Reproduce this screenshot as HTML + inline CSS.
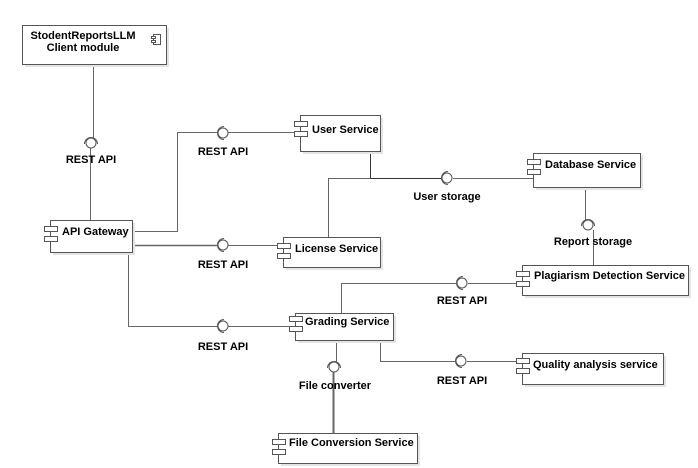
<!DOCTYPE html>
<html><head><meta charset="utf-8"><style>
html,body{margin:0;padding:0;background:#fff;}
svg{display:block;}
text{font-family:"Liberation Sans",Arial,sans-serif;font-weight:bold;font-size:11px;fill:#000;}
</style></head><body>
<svg width="698" height="468" viewBox="0 0 698 468" xmlns="http://www.w3.org/2000/svg">
<defs>
<g id="lol">
  <circle cx="0" cy="0" r="5" fill="#fff" stroke="#555" stroke-width="1"/>
  <path d="M 1,-6.5 A 6.5 6.5 0 0 0 1,6.5" fill="none" stroke="#555" stroke-width="1"/>
</g>
</defs>
<g fill="none" stroke="#666" stroke-width="1">
  <!-- client to gateway -->
  <path d="M93.5,64 V138"/><path d="M90.5,148 V220"/>
  <!-- gateway to user -->
  <path d="M132,231.5 H177.5 V132.5 H217"/><path d="M228,132.5 H300"/>
  <!-- gateway to license -->
  <path d="M132,245.5 H217" stroke-width="1.5"/><path d="M228,245.5 H283"/>
  <!-- gateway to grading -->
  <path d="M128.5,252 V326.5 H217"/><path d="M228,326.5 H295"/>
  <!-- user storage -->
  <path d="M370.5,151 V178.5 H441" stroke="#333"/><path d="M370.5,178.5 H328.5 V237"/>
  <path d="M453,178.5 H533"/>
  <!-- report storage -->
  <path d="M585.5,187 V220"/><path d="M593.5,230 V265"/>
  <!-- grading to plag -->
  <path d="M341.5,313 V283.5 H456"/><path d="M468,283.5 H522"/>
  <!-- grading to quality -->
  <path d="M380.5,340 V361.5 H455"/><path d="M467,361.5 H522"/>
  <!-- file converter -->
  <path d="M336.5,340 V362"/><path d="M333.5,372 V433" stroke-width="2"/>
</g>
<use href="#lol" x="91" y="143" transform="rotate(90 91 143)"/>
<use href="#lol" x="223" y="133"/>
<use href="#lol" x="223" y="245"/>
<use href="#lol" x="223" y="326"/>
<use href="#lol" x="447" y="178"/>
<use href="#lol" x="588" y="225" transform="rotate(90 588 225)"/>
<use href="#lol" x="462" y="283"/>
<use href="#lol" x="461" y="361"/>
<use href="#lol" x="334" y="367" transform="rotate(90 334 367)"/>

<!-- boxes -->
<g stroke="#555" stroke-width="1">
  <!-- client -->
  <rect x="25" y="28" width="144" height="39" fill="#e4e4e4" stroke="none"/>
  <rect x="22.5" y="25.5" width="144" height="39" fill="#fff"/>
  <!-- gateway -->
  <rect x="53" y="223" width="82" height="32" fill="#e4e4e4" stroke="none"/>
  <rect x="50.5" y="220.5" width="82" height="32" fill="#fff"/>
  <!-- user -->
  <rect x="303" y="118" width="80" height="36" fill="#e4e4e4" stroke="none"/>
  <rect x="300.5" y="115.5" width="80" height="36" fill="#fff"/>
  <!-- license -->
  <rect x="286" y="240" width="97" height="30" fill="#e4e4e4" stroke="none"/>
  <rect x="283.5" y="237.5" width="97" height="30" fill="#fff"/>
  <!-- db -->
  <rect x="536" y="156" width="107" height="34" fill="#e4e4e4" stroke="none"/>
  <rect x="533.5" y="153.5" width="107" height="34" fill="#fff"/>
  <!-- plag -->
  <rect x="525" y="268" width="166" height="30" fill="#e4e4e4" stroke="none"/>
  <rect x="522.5" y="265.5" width="166" height="30" fill="#fff"/>
  <!-- grading -->
  <rect x="298" y="316" width="98" height="27" fill="#e4e4e4" stroke="none"/>
  <rect x="295.5" y="313.5" width="98" height="27" fill="#fff"/>
  <!-- quality -->
  <rect x="525" y="356" width="141" height="31" fill="#e4e4e4" stroke="none"/>
  <rect x="522.5" y="353.5" width="141" height="31" fill="#fff"/>
  <!-- fcs -->
  <rect x="281" y="436" width="139" height="30" fill="#e4e4e4" stroke="none"/>
  <rect x="278.5" y="433.5" width="139" height="30" fill="#fff"/>
</g>
<!-- tabs -->
<g fill="#fff" stroke="#555" stroke-width="1">
  <rect x="44.5" y="226.5" width="13" height="5"/><rect x="44.5" y="236.5" width="13" height="5"/>
  <rect x="294.5" y="121.5" width="13" height="5"/><rect x="294.5" y="131.5" width="13" height="5"/>
  <rect x="277.5" y="243.5" width="13" height="5"/><rect x="277.5" y="253.5" width="13" height="5"/>
  <rect x="527.5" y="159.5" width="13" height="5"/><rect x="527.5" y="169.5" width="13" height="5"/>
  <rect x="516.5" y="271.5" width="13" height="5"/><rect x="516.5" y="281.5" width="13" height="5"/>
  <rect x="289.5" y="316.5" width="13" height="5"/><rect x="289.5" y="326.5" width="13" height="5"/>
  <rect x="516.5" y="358.5" width="13" height="5"/><rect x="516.5" y="368.5" width="13" height="5"/>
  <rect x="272.5" y="439.5" width="13" height="5"/><rect x="272.5" y="449.5" width="13" height="5"/>
  <!-- client icon -->
  <rect x="153.5" y="34.5" width="7" height="10"/>
  <rect x="151.5" y="36.5" width="4" height="2"/><rect x="151.5" y="40.5" width="4" height="2"/>
</g>
<!-- labels -->
<text x="83" y="39" text-anchor="middle">StodentReportsLLM</text>
<text x="83" y="51" text-anchor="middle">Client module</text>
<text x="62" y="235">API Gateway</text>
<text x="312" y="133">User Service</text>
<text x="295" y="252">License Service</text>
<text x="545" y="168">Database Service</text>
<text x="534" y="279">Plagiarism Detection Service</text>
<text x="305" y="325">Grading Service</text>
<text x="533" y="368">Quality analysis service</text>
<text x="289" y="446">File Conversion Service</text>

<text x="91" y="163" text-anchor="middle">REST API</text>
<text x="223" y="155" text-anchor="middle">REST API</text>
<text x="223" y="268" text-anchor="middle">REST API</text>
<text x="223" y="350" text-anchor="middle">REST API</text>
<text x="447" y="200" text-anchor="middle">User storage</text>
<text x="593" y="245" text-anchor="middle">Report storage</text>
<text x="462" y="304" text-anchor="middle">REST API</text>
<text x="462" y="384" text-anchor="middle">REST API</text>
<text x="335" y="389" text-anchor="middle">File converter</text>
</svg>
</body></html>
